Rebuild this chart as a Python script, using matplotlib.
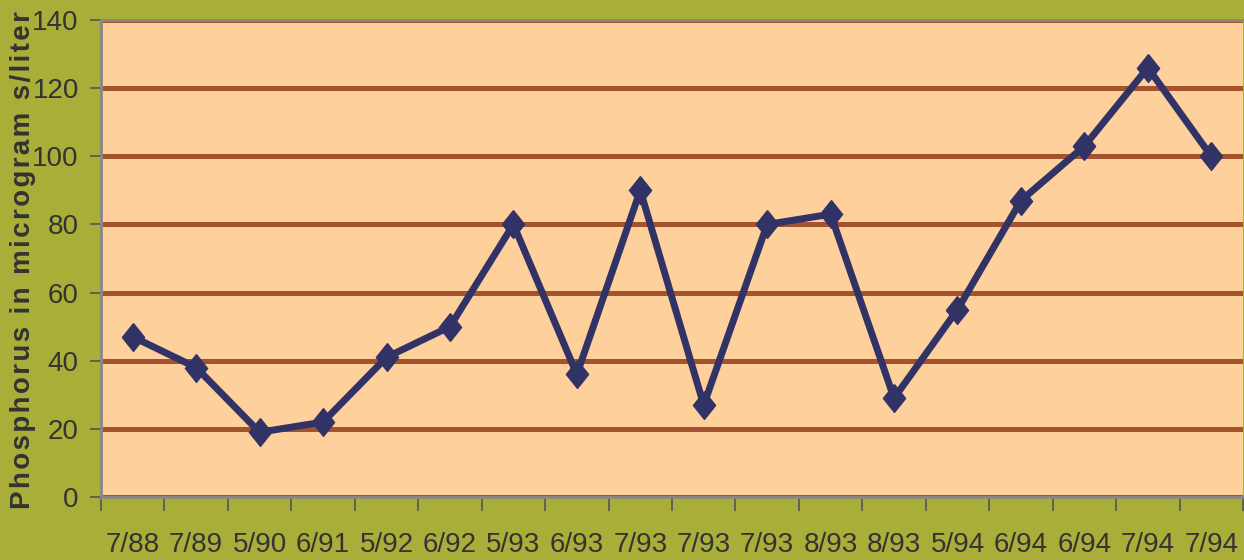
import matplotlib.pyplot as plt

# Sample dates and phosphorus readings (micrograms per liter)
dates = ['7/88', '7/89', '5/90', '6/91', '5/92', '6/92', '5/93', '6/93', '7/93',
         '7/93', '7/93', '8/93', '8/93', '5/94', '6/94', '6/94', '7/94', '7/94']
phosphorus = [47, 38, 19, 22, 41, 50, 80, 36, 90, 27, 80, 83, 29, 55, 87, 103, 126, 100]

tick_font = ['Liberation Sans Narrow', 'Liberation Sans', 'DejaVu Sans']

fig = plt.figure(figsize=(12.44, 5.6), dpi=100, facecolor='#a8ae38')
ax = fig.add_axes([101 / 1244, 63 / 560, 1142 / 1244, 477 / 560])
ax.set_facecolor('#fdd09c')

x = range(len(dates))
diamond = [(0, 1), (0.8, 0), (0, -1), (-0.8, 0), (0, 1)]
ax.plot(x, phosphorus, color='#313366', lw=5, marker=diamond, markersize=20,
        solid_joinstyle='miter', zorder=3)

ax.set_xlim(-0.5, len(dates) - 0.5)
ax.set_ylim(0, 140)
ax.set_yticks(range(0, 141, 20))
ax.yaxis.grid(True, color='#a5532f', lw=3.6)
ax.set_axisbelow(True)

# ticks between categories, labels centred under each point
ax.set_xticks([i - 0.5 for i in range(len(dates) + 1)])
ax.set_xticklabels([])
ax.set_xticks(list(x), minor=True)
ax.set_xticklabels(dates, minor=True, family=tick_font, fontsize=20, color='#333333')
ax.tick_params(axis='x', which='major', length=10, width=1.2, color='#555555', direction='out')
ax.tick_params(axis='x', which='minor', length=0, pad=25)
ax.tick_params(axis='y', length=8, width=1.2, color='#555555', pad=8)
for lbl in ax.get_yticklabels():
    lbl.set_family(tick_font)
    lbl.set_fontsize(20)
    lbl.set_color('#333333')

for side in ['left', 'bottom', 'top']:
    ax.spines[side].set_color('#888888')
    ax.spines[side].set_linewidth(2)
ax.spines['right'].set_visible(False)

# letter-spaced axis title
label = '\u200a'.join('Phosphorus in microgram s/liter')
fig.text(23 / 1244, 0.535, label, rotation=90, ha='center', va='center',
         family=['Liberation Sans', 'DejaVu Sans'], fontweight='bold',
         fontsize=20, color='#333333')

fig.savefig('out.png', dpi=100, facecolor=fig.get_facecolor())
